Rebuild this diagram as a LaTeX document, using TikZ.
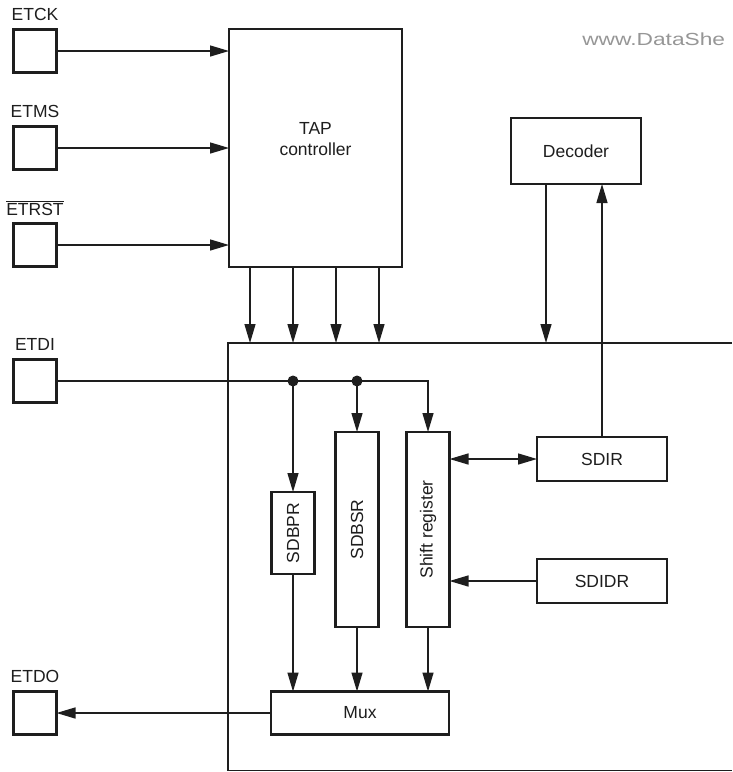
\documentclass[tikz,border=0pt]{standalone}
\usepackage{fontspec}
\setmainfont{Liberation Sans}
\usetikzlibrary{arrows.meta}
\definecolor{wmgray}{RGB}{150,150,150}
\definecolor{ink}{RGB}{30,30,30}
\begin{document}
\begin{tikzpicture}[x=1pt,y=-1pt,
  every node/.style={font=\fontsize{17.5}{21}\selectfont, text=ink},
  blk/.style={draw=ink, line width=2.5pt, rectangle, inner sep=0pt, outer sep=0pt, fill=white},
  pin/.style={blk, minimum width=43pt, minimum height=43pt},
  plabel/.style={inner sep=0pt},
  conn/.style={draw=ink, line width=1.4pt},
  arr/.style={conn, -{Triangle[length=19pt,width=11pt]}},
  arrb/.style={conn, {Triangle[length=19pt,width=11pt]}-{Triangle[length=19pt,width=11pt]}}]
\useasboundingbox (0,0) rectangle (732,772);

% big box outline
\coordinate (bbTL) at (228,343);
\coordinate (bbTR) at (732,343);
\coordinate (bbBL) at (228,770.5);
\coordinate (bbBR) at (732,770.5);
\draw[conn] (bbTR) -- (bbTL) -- (bbBL) -- (bbBR);

% watermark
\node[anchor=west, text=wmgray, xscale=1.3, inner sep=0pt] (wm) at (582,39) {www.DataShe};

% pins
\node[pin] (etck) at (35,51) {};
\node[pin] (etms) at (35,148) {};
\node[pin] (etrst) at (35,245) {};
\node[pin] (etdi) at (35,381) {};
\node[pin] (etdo) at (35,713) {};
\node[plabel] (letck) at (35,14) {ETCK};
\node[plabel] (letms) at (35,111) {ETMS};
\node[plabel] (letrst) at (35,208) {$\overline{\hbox{ETRST}}$};
\node[plabel] (letdi) at (35,344) {ETDI};
\node[plabel] (letdo) at (35,676) {ETDO};

% blocks
\node[blk, minimum width=173pt, minimum height=238pt] (tap) at (315.5,148) {};
\node[align=center, inner sep=0pt] (taptxt) at (315.5,139) {TAP\\controller};
\node[blk, minimum width=130pt, minimum height=66pt] (dec) at (576,151) {Decoder};
\node[blk, minimum width=130pt, minimum height=44pt] (sdir) at (602,459) {SDIR};
\node[blk, minimum width=130pt, minimum height=44pt] (sdidr) at (602,581) {SDIDR};
\node[blk, minimum width=43pt, minimum height=82pt] (sdbpr) at (293,533) {\rotatebox{90}{SDBPR}};
\node[blk, minimum width=43pt, minimum height=195pt] (sdbsr) at (357,529.5) {\rotatebox{90}{SDBSR}};
\node[blk, minimum width=43pt, minimum height=195pt] (sr) at (428,529.5) {\rotatebox{90}{Shift register}};
\node[blk, minimum width=178pt, minimum height=43pt] (mux) at (360,713) {Mux};

% pins to TAP
\draw[arr] (etck.east) -- (etck.east -| tap.west);
\draw[arr] (etms.east) -- (etms.east -| tap.west);
\draw[arr] (etrst.east) -- (etrst.east -| tap.west);

% TAP to core
\coordinate (t1) at (250,343);
\coordinate (t2) at (293,343);
\coordinate (t3) at (336,343);
\coordinate (t4) at (379,343);
\coordinate (t5) at (546,343);
\foreach \t in {t1,t2,t3,t4} \draw[arr] (tap.south -| \t) -- (\t);
\draw[arr] (dec.south -| t5) -- (t5);
\draw[arr] (sdir.north) -- (sdir.north |- dec.south);

% ETDI distribution
\coordinate (j1) at (sdbpr.north |- etdi);
\coordinate (j2) at (sdbsr.north |- etdi);
\draw[arr] (etdi.east) -- (sr.north |- etdi) -- (sr.north);
\draw[arr] (j1) -- (sdbpr.north);
\draw[arr] (j2) -- (sdbsr.north);
\fill[ink] (j1) circle (5.5);
\fill[ink] (j2) circle (5.5);

% SDIR / SDIDR
\draw[arrb] (sr.east |- sdir.west) -- (sdir.west);
\draw[arr] (sdidr.west) -- (sdidr.west -| sr.east);

% to Mux
\draw[arr] (sdbpr.south) -- (sdbpr.south |- mux.north);
\draw[arr] (sdbsr.south) -- (sdbsr.south |- mux.north);
\draw[arr] (sr.south) -- (sr.south |- mux.north);
\draw[arr] (mux.west) -- (etdo.east);
\end{tikzpicture}
\end{document}
